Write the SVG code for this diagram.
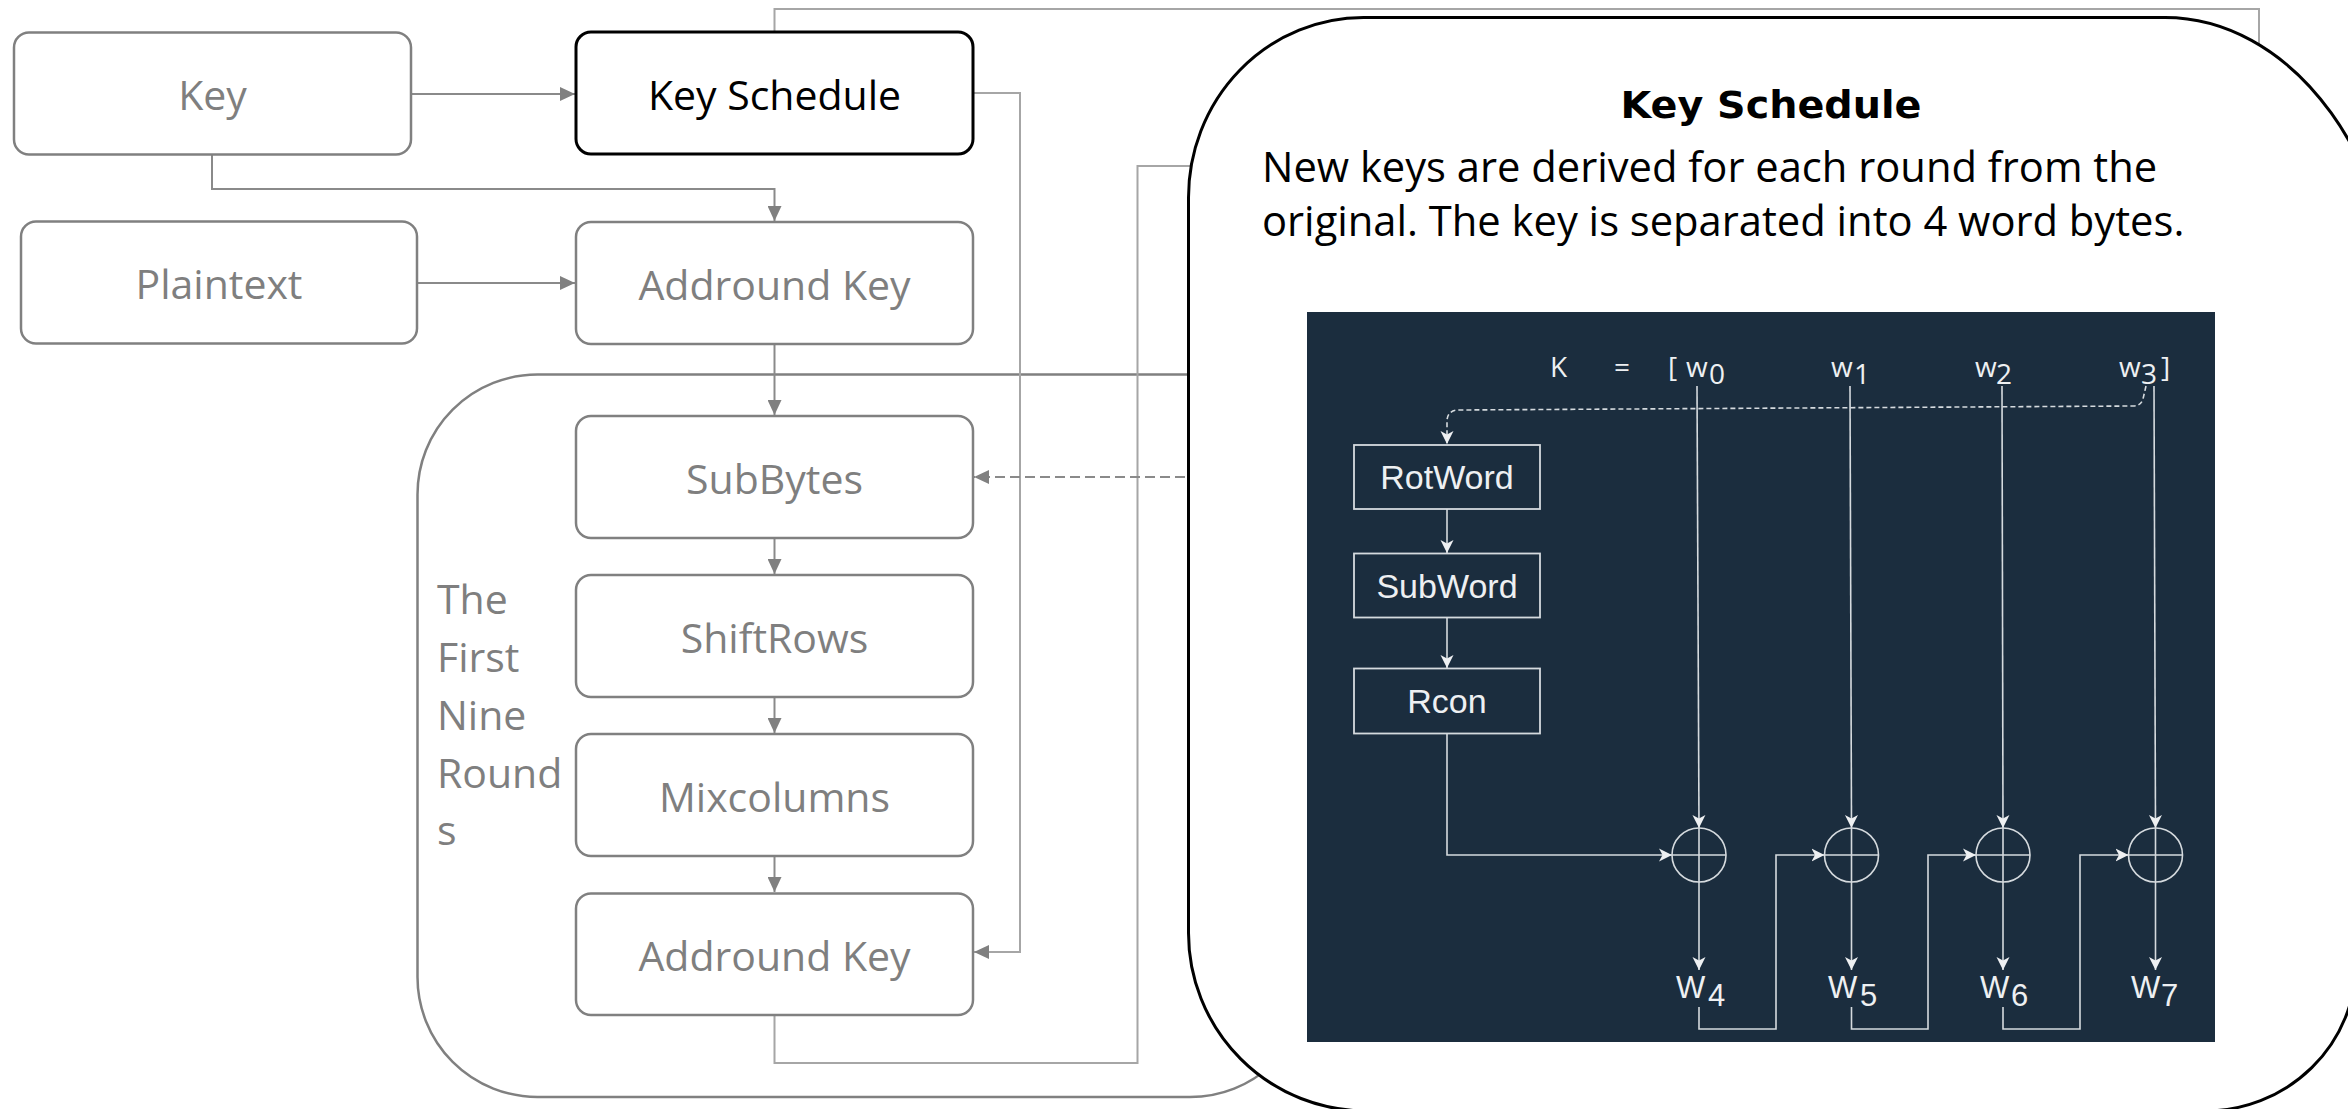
<svg xmlns="http://www.w3.org/2000/svg" width="2348" height="1109" viewBox="0 0 2348 1109">
  <style>
    .box { fill: #ffffff; stroke: #808080; stroke-width: 2.5; }
    .box-dark { fill: #ffffff; stroke: #000000; stroke-width: 3; }
    .lbl { font-family: "Open Sans", "Liberation Sans", sans-serif; font-size: 41px; fill: #7f7f7f; text-anchor: middle; }
    .lbl-dark { fill: #000000; }
    .wire { fill: none; stroke: #8a8a8a; stroke-width: 2; }
    .wire-light { fill: none; stroke: #a6a6a6; stroke-width: 2; }
    .body { font-family: "Open Sans", "Liberation Sans", sans-serif; font-size: 41.7px; fill: #000000; }
    .ks-line { fill: none; stroke: #d5dade; stroke-width: 1.6; }
    .ks-box { fill: none; stroke: #d5dade; stroke-width: 1.8; }
    .ks-txt { font-family: "Liberation Sans", Arial, sans-serif; font-size: 34px; fill: #eef0f2; text-anchor: middle; }
    .ks-sym { font-family: "Open Sans", "Liberation Sans", sans-serif; font-size: 28px; fill: #eef0f2; }
    .ks-w { font-family: "Liberation Sans", Arial, sans-serif; font-size: 31px; fill: #eef0f2; }
  </style>
  <defs>
    <marker id="arrowGray" markerUnits="userSpaceOnUse" markerWidth="15" markerHeight="14" refX="15" refY="7" orient="auto">
      <path d="M0,0 L15,7 L0,14 z" fill="#808080"/>
    </marker>
    <marker id="arrowWhite" markerUnits="userSpaceOnUse" markerWidth="14" markerHeight="14" refX="13" refY="7" orient="auto">
      <path d="M0,0.5 L13,7 L0,13.5 L3.5,7 z" fill="#eef0f2"/>
    </marker>
    <clipPath id="page">
      <rect x="0" y="0" width="2348" height="1109"/>
    </clipPath>
  </defs>

  <rect width="2348" height="1109" fill="#ffffff"/>

  <!-- rounds container -->
  <g id="rounds">
    <rect x="417.5" y="374.5" width="892.5" height="722.5" rx="120" ry="120" fill="none" stroke="#808080" stroke-width="2.5"/>
    <text font-family="'Open Sans', 'Liberation Sans', sans-serif" font-size="41" fill="#7f7f7f">
      <tspan x="437" y="614">The</tspan>
      <tspan x="437" y="672">First</tspan>
      <tspan x="437" y="730">Nine</tspan>
      <tspan x="437" y="788">Round</tspan>
      <tspan x="437" y="845">s</tspan>
    </text>
  </g>

  <!-- connectors -->
  <g id="connectors">
    <path class="wire" d="M412,94 L575,94" marker-end="url(#arrowGray)"/>
    <path class="wire" d="M418,283 L575,283" marker-end="url(#arrowGray)"/>
    <path class="wire" d="M212,155 L212,189 L774.5,189 L774.5,221" marker-end="url(#arrowGray)"/>
    <path class="wire" d="M774.5,344 L774.5,415" marker-end="url(#arrowGray)"/>
    <path class="wire" d="M774.5,538 L774.5,574" marker-end="url(#arrowGray)"/>
    <path class="wire" d="M774.5,697 L774.5,733" marker-end="url(#arrowGray)"/>
    <path class="wire" d="M774.5,856 L774.5,892" marker-end="url(#arrowGray)"/>
    <path class="wire-light" d="M774.5,31 L774.5,9 L2259,9 L2259,120"/>
    <path class="wire-light" d="M973,93 L1020,93 L1020,952 L974,952" marker-end="url(#arrowGray)"/>
    <path class="wire-light" d="M774.5,1015 L774.5,1063 L1137.5,1063 L1137.5,166 L1260,166"/>
    <path class="wire" d="M1260,477 L974,477" stroke-dasharray="10,5" marker-end="url(#arrowGray)"/>
  </g>

  <!-- input and round nodes -->
  <g id="key">
    <rect class="box" x="14" y="32.5" width="397" height="122" rx="15"/>
    <text class="lbl" x="212.5" y="110">Key</text>
  </g>
  <g id="key-schedule">
    <rect class="box-dark" x="576" y="32" width="397" height="122" rx="15"/>
    <text class="lbl lbl-dark" x="774.5" y="110">Key Schedule</text>
  </g>
  <g id="plaintext">
    <rect class="box" x="21" y="221.5" width="396" height="122" rx="15"/>
    <text class="lbl" x="219" y="299">Plaintext</text>
  </g>
  <g id="addround-key-initial">
    <rect class="box" x="576" y="222" width="397" height="122" rx="15"/>
    <text class="lbl" x="774.5" y="300">Addround Key</text>
  </g>
  <g id="subbytes">
    <rect class="box" x="576" y="416" width="397" height="122" rx="15"/>
    <text class="lbl" x="774.5" y="494">SubBytes</text>
  </g>
  <g id="shiftrows">
    <rect class="box" x="576" y="575" width="397" height="122" rx="15"/>
    <text class="lbl" x="774.5" y="653">ShiftRows</text>
  </g>
  <g id="mixcolumns">
    <rect class="box" x="576" y="734" width="397" height="122" rx="15"/>
    <text class="lbl" x="774.5" y="812">Mixcolumns</text>
  </g>
  <g id="addround-key-round">
    <rect class="box" x="576" y="893.5" width="397" height="121.5" rx="15"/>
    <text class="lbl" x="774.5" y="971">Addround Key</text>
  </g>

  <!-- key schedule callout; its right side runs off the page -->
  <g id="key-schedule-callout">
    <path clip-path="url(#page)" d="M1363.5,17.5 H2165 A235,326 0 0 1 2400,343.5 L2600,343.5 L2600,963 L2356,963 A151,148 0 0 1 2205,1111 H1366.5 A178,178 0 0 1 1188.5,933 V197.5 A175,180 0 0 1 1363.5,17.5 Z" fill="#ffffff" stroke="#000000" stroke-width="3"/>
    <text x="1771" y="118" font-family="'DejaVu Sans', 'Liberation Sans', sans-serif" font-weight="bold" font-size="37" fill="#000000" text-anchor="middle" textLength="301" lengthAdjust="spacingAndGlyphs">Key Schedule</text>
    <text class="body" x="1262" y="182">New keys are derived for each round from the</text>
    <text class="body" x="1262" y="236">original. The key is separated into 4 word bytes.</text>

    <!-- word expansion figure -->
    <rect x="1307" y="312" width="908" height="730" fill="#1b2d3e"/>

    <text class="ks-sym" x="1550" y="377">K</text>
    <text class="ks-sym" x="1614" y="377">=</text>
    <text class="ks-sym" x="1668" y="377">[</text>
    <text class="ks-sym" x="1686" y="377">w</text>
    <text class="ks-sym" x="1709" y="384">0</text>
    <text class="ks-sym" x="1831" y="377">w</text>
    <text class="ks-sym" x="1854" y="384">1</text>
    <text class="ks-sym" x="1975" y="377">w</text>
    <text class="ks-sym" x="1996" y="384">2</text>
    <text class="ks-sym" x="2119" y="377">w</text>
    <text class="ks-sym" x="2141" y="384">3</text>
    <text class="ks-sym" x="2161" y="377">]</text>

    <path class="ks-line" d="M2146,386 L2143,399 Q2141,406 2133,406 L1459,410 Q1448,410 1447,420 L1447,444" stroke-dasharray="5,3" marker-end="url(#arrowWhite)"/>

    <rect class="ks-box" x="1354" y="445" width="186" height="64"/>
    <text class="ks-txt" x="1447" y="489">RotWord</text>
    <rect class="ks-box" x="1354" y="553.5" width="186" height="64"/>
    <text class="ks-txt" x="1447" y="597.5">SubWord</text>
    <rect class="ks-box" x="1354" y="668.5" width="186" height="65"/>
    <text class="ks-txt" x="1447" y="713">Rcon</text>

    <path class="ks-line" d="M1447,509 L1447,553" marker-end="url(#arrowWhite)"/>
    <path class="ks-line" d="M1447,618 L1447,668" marker-end="url(#arrowWhite)"/>
    <path class="ks-line" d="M1447,734 L1447,855 L1672,855" marker-end="url(#arrowWhite)"/>

    <!-- word columns into the XOR nodes -->
    <path class="ks-line" d="M1697,386 L1699,828" marker-end="url(#arrowWhite)"/>
    <path class="ks-line" d="M1850,386 L1851.5,828" marker-end="url(#arrowWhite)"/>
    <path class="ks-line" d="M2002,386 L2003,828" marker-end="url(#arrowWhite)"/>
    <path class="ks-line" d="M2154,386 L2155.5,828" marker-end="url(#arrowWhite)"/>

    <g class="ks-line">
      <circle cx="1699" cy="855" r="27"/>
      <path d="M1699,828 V882 M1672,855 H1726"/>
      <circle cx="1851.5" cy="855" r="27"/>
      <path d="M1851.5,828 V882 M1824.5,855 H1878.5"/>
      <circle cx="2003" cy="855" r="27"/>
      <path d="M2003,828 V882 M1976,855 H2030"/>
      <circle cx="2155.5" cy="855" r="27"/>
      <path d="M2155.5,828 V882 M2128.5,855 H2182.5"/>
    </g>

    <path class="ks-line" d="M1699,882 L1699,970" marker-end="url(#arrowWhite)"/>
    <path class="ks-line" d="M1851.5,882 L1851.5,970" marker-end="url(#arrowWhite)"/>
    <path class="ks-line" d="M2003,882 L2003,970" marker-end="url(#arrowWhite)"/>
    <path class="ks-line" d="M2155.5,882 L2155.5,970" marker-end="url(#arrowWhite)"/>

    <path class="ks-line" d="M1699,1007 L1699,1029 L1776,1029 L1776,855 L1824.5,855" marker-end="url(#arrowWhite)"/>
    <path class="ks-line" d="M1851.5,1007 L1851.5,1029 L1928,1029 L1928,855 L1976,855" marker-end="url(#arrowWhite)"/>
    <path class="ks-line" d="M2003,1007 L2003,1029 L2080,1029 L2080,855 L2128.5,855" marker-end="url(#arrowWhite)"/>

    <text class="ks-w" x="1676" y="998">W</text>
    <text class="ks-w" x="1708" y="1006">4</text>
    <text class="ks-w" x="1828" y="998">W</text>
    <text class="ks-w" x="1860" y="1006">5</text>
    <text class="ks-w" x="1980" y="998">W</text>
    <text class="ks-w" x="2011" y="1006">6</text>
    <text class="ks-w" x="2131" y="998">W</text>
    <text class="ks-w" x="2161" y="1006">7</text>
  </g>
</svg>
